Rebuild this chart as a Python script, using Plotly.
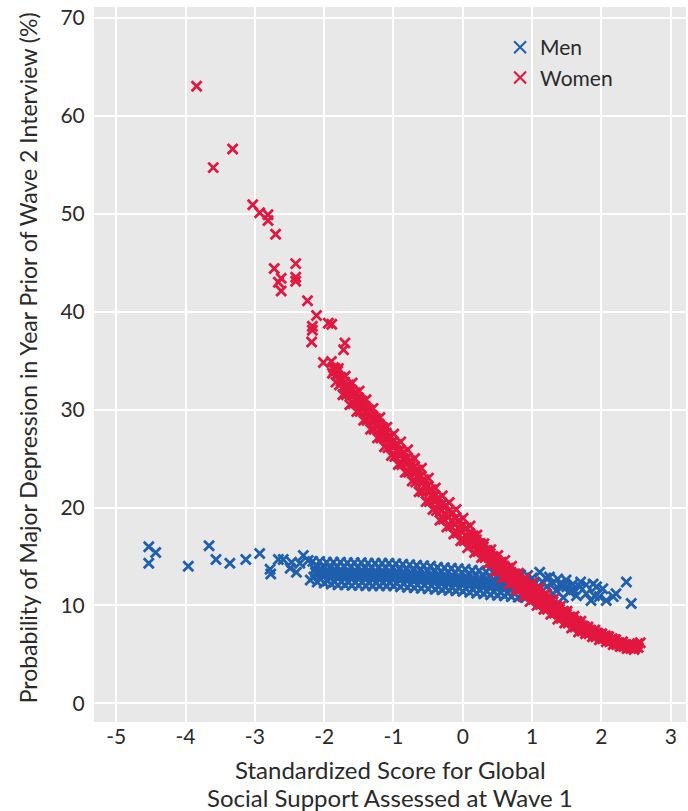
import plotly.graph_objects as go

# ---------------- data ----------------
# Women: sparse points on the left
women_sparse_x = [-3.84, -3.32, -3.60, -3.03, -2.93, -2.81, -2.81, -2.70, -2.72, -2.41,
                  -2.62, -2.66, -2.41, -2.41, -2.62, -2.24, -2.11, -2.17, -2.17, -1.94,
                  -1.89, -2.18, -1.70, -1.72, -2.01]
women_sparse_y = [63.0, 56.6, 54.7, 50.9, 50.1, 49.9, 49.3, 47.9, 44.4, 44.9,
                  43.4, 43.0, 43.5, 43.1, 42.1, 41.1, 39.6, 38.5, 38.1, 38.8,
                  38.7, 36.9, 36.8, 36.1, 34.8]

# Women: dense band (x positions, four estimated points each)
women_band_x = [-1.88, -1.83, -1.78, -1.73, -1.68, -1.63, -1.58, -1.53, -1.48, -1.43,
                -1.38, -1.33, -1.28, -1.23, -1.18, -1.13, -1.08, -1.03, -0.98, -0.93,
                -0.88, -0.83, -0.78, -0.73, -0.68, -0.63, -0.58, -0.53, -0.48, -0.43,
                -0.38, -0.33, -0.28, -0.23, -0.18, -0.13, -0.08, -0.03, 0.02, 0.07,
                0.12, 0.17, 0.22, 0.27, 0.32, 0.37, 0.42, 0.47, 0.52, 0.57,
                0.62, 0.67, 0.72, 0.77, 0.82, 0.87, 0.92, 0.97, 1.02, 1.07,
                1.12, 1.17, 1.22, 1.27, 1.32, 1.37, 1.42, 1.47, 1.52, 1.57,
                1.62, 1.67, 1.72, 1.77, 1.82, 1.87, 1.92, 1.97, 2.02, 2.07,
                2.12, 2.17, 2.22, 2.27, 2.32, 2.37, 2.42, 2.47]
women_band_top = [34.9, 34.2, 34.2, 33.2, 33.4, 32.5, 32.7, 31.7, 31.9, 30.8,
                  31.0, 29.9, 30.1, 29.0, 29.2, 28.1, 28.2, 27.2, 27.5, 26.4,
                  26.7, 25.6, 25.9, 24.7, 25.0, 23.8, 24.0, 22.8, 23.0, 21.8,
                  22.0, 20.9, 21.2, 20.2, 20.5, 19.5, 19.8, 18.6, 18.9, 17.9,
                  18.1, 17.1, 17.2, 16.3, 16.3, 15.6, 15.7, 14.9, 15.1, 14.4,
                  14.6, 13.8, 14.0, 13.2, 13.3, 12.5, 12.8, 12.0, 12.3, 11.6,
                  11.8, 11.0, 11.2, 10.5, 10.6, 9.9, 9.9, 9.4, 9.4, 8.8,
                  8.9, 8.3, 8.4, 7.8, 7.8, 7.4, 7.5, 7.1, 7.1, 6.9,
                  6.8, 6.6, 6.5, 6.2, 6.3, 6.0, 6.0, 5.9]
women_band_mid = [34.3, 33.5, 33.3, 32.3, 32.4, 31.5, 31.7, 30.7, 30.9, 29.8,
                  30.0, 28.9, 29.1, 28.0, 28.2, 27.1, 27.2, 26.2, 26.4, 25.3,
                  25.6, 24.5, 24.8, 23.6, 23.8, 22.6, 22.8, 21.6, 21.8, 20.7,
                  20.9, 19.7, 20.0, 19.0, 19.3, 18.3, 18.6, 17.5, 17.8, 16.9,
                  17.1, 16.2, 16.3, 15.6, 15.6, 14.9, 15.0, 14.2, 14.3, 13.5,
                  13.7, 12.9, 13.1, 12.3, 12.4, 11.6, 11.9, 11.1, 11.4, 10.7,
                  10.9, 10.3, 10.4, 9.8, 9.9, 9.2, 9.3, 8.7, 8.8, 8.2,
                  8.4, 7.8, 7.9, 7.4, 7.5, 7.1, 7.2, 6.8, 6.8, 6.6,
                  6.5, 6.3, 6.2, 6.0, 6.0, 5.8, 5.8, 5.7]
women_band_low = [33.7, 32.8, 32.5, 31.5, 31.5, 30.5, 30.6, 29.8, 29.8, 28.9,
                  28.9, 28.0, 28.0, 27.1, 27.1, 26.2, 26.1, 25.3, 25.2, 24.4,
                  24.4, 23.6, 23.6, 22.7, 22.6, 21.6, 21.6, 20.6, 20.6, 19.8,
                  19.7, 18.7, 18.8, 18.0, 18.1, 17.3, 17.4, 16.6, 16.6, 15.9,
                  16.2, 15.4, 15.5, 14.9, 14.9, 14.3, 14.3, 13.5, 13.5, 12.8,
                  12.9, 12.2, 12.3, 11.6, 11.6, 10.9, 11.1, 10.4, 10.6, 10.0,
                  10.1, 9.6, 9.6, 9.1, 9.2, 8.6, 8.7, 8.2, 8.2, 7.7,
                  7.8, 7.3, 7.4, 7.1, 7.1, 6.8, 6.8, 6.5, 6.6, 6.3,
                  6.3, 6.0, 6.0, 5.8, 5.8, 5.6, 5.6, 5.5]
women_band_extra = [34.0, 33.9, 32.9, 32.8, 32.0, 32.0, 31.1, 31.2, 30.3, 30.3,
                    29.4, 29.4, 28.5, 28.5, 27.6, 27.6, 26.6, 26.7, 25.8, 25.8,
                    25.0, 25.0, 24.2, 24.1, 23.2, 23.2, 22.2, 22.2, 21.2, 21.2,
                    20.3, 20.3, 19.4, 19.6, 18.7, 18.9, 18.0, 18.1, 17.2, 17.4,
                    16.6, 16.7, 15.9, 16.0, 15.2, 15.3, 14.6, 14.6, 13.9, 14.0,
                    13.3, 13.4, 12.7, 12.8, 12.0, 12.1, 11.5, 11.6, 11.0, 11.2,
                    10.5, 10.7, 10.0, 10.1, 9.5, 9.6, 9.0, 9.1, 8.5, 8.5,
                    8.1, 8.0, 7.6, 7.6, 7.3, 7.3, 7.0, 7.0, 6.7, 6.8,
                    6.4, 6.5, 6.1, 6.1, 5.9, 5.9, 5.7, 5.8]
women_end_x = [2.52, 2.53, 2.56]
women_end_y = [6.1, 5.7, 6.2]

# Men: sparse points on the left
men_sparse_x = [-4.53, -4.43, -4.53, -3.96, -3.66, -3.56, -3.36, -3.13, -2.93, -2.78,
                -2.77, -2.66, -2.59, -2.47, -2.49, -2.40, -2.30, -2.35, -2.23, -2.20]
men_sparse_y = [16.0, 15.4, 14.3, 14.0, 16.1, 14.7, 14.3, 14.7, 15.3, 13.7,
                13.2, 14.7, 14.7, 14.4, 13.8, 13.4, 15.1, 14.3, 14.6, 12.6]

# Men: dense band
men_band_x = [-2.15, -2.10, -2.05, -2.00, -1.95, -1.90, -1.85, -1.80, -1.75, -1.70,
              -1.65, -1.60, -1.55, -1.50, -1.45, -1.40, -1.35, -1.30, -1.25, -1.20,
              -1.15, -1.10, -1.05, -1.00, -0.95, -0.90, -0.85, -0.80, -0.75, -0.70,
              -0.65, -0.60, -0.55, -0.50, -0.45, -0.40, -0.35, -0.30, -0.25, -0.20,
              -0.15, -0.10, -0.05, 0.00, 0.05, 0.10, 0.15, 0.20, 0.25, 0.30,
              0.35, 0.40, 0.45, 0.50, 0.55, 0.60, 0.65, 0.70, 0.75, 0.80,
              0.85, 0.90, 0.95]
men_band_top = [14.5, 14.1, 14.5, 14.0, 14.4, 13.9, 14.4, 13.95, 14.4, 13.95,
                14.35, 13.9, 14.35, 13.9, 14.35, 13.85, 14.3, 13.85, 14.3, 13.85,
                14.3, 13.85, 14.3, 13.85, 14.25, 13.75, 14.2, 13.7, 14.15, 13.65,
                14.1, 13.6, 14.05, 13.55, 14.0, 13.5, 13.9, 13.45, 13.85, 13.4,
                13.8, 13.35, 13.75, 13.3, 13.7, 13.2, 13.6, 13.1, 13.55, 13.05,
                13.45, 12.95, 13.4, 12.9, 13.3, 12.85, 13.25, 12.75, 13.2, 12.7,
                13.1, 12.65, 13.05]
men_band_mid = [13.7, 13.2, 13.6, 13.1, 13.5, 13.0, 13.4, 12.95, 13.4, 12.95,
                13.35, 12.9, 13.35, 12.9, 13.35, 12.85, 13.3, 12.85, 13.3, 12.85,
                13.3, 12.85, 13.3, 12.85, 13.25, 12.75, 13.2, 12.7, 13.15, 12.65,
                13.1, 12.6, 13.05, 12.55, 13.0, 12.5, 12.9, 12.45, 12.85, 12.4,
                12.8, 12.35, 12.75, 12.3, 12.7, 12.2, 12.6, 12.1, 12.55, 12.05,
                12.45, 11.95, 12.4, 11.9, 12.3, 11.85, 12.25, 11.75, 12.2, 11.7,
                12.1, 11.65, 12.05]
men_band_low = [12.9, 12.4, 12.7, 12.3, 12.5, 12.2, 12.4, 12.1, 12.4, 12.1,
                12.35, 12.05, 12.35, 12.05, 12.35, 12.0, 12.3, 12.0, 12.3, 12.0,
                12.3, 12.0, 12.3, 12.0, 12.25, 11.9, 12.2, 11.85, 12.15, 11.8,
                12.1, 11.75, 12.05, 11.7, 12.0, 11.65, 11.9, 11.6, 11.85, 11.55,
                11.8, 11.5, 11.75, 11.45, 11.7, 11.35, 11.6, 11.25, 11.55, 11.2,
                11.45, 11.1, 11.4, 11.05, 11.3, 11.0, 11.25, 10.9, 11.2, 10.85,
                11.1, 10.8, 11.05]
men_band_extra = [13.4, 13.6, 13.2, 13.5, 13.1, 13.4, 13.0, 13.35, 13.0, 13.35,
                  12.95, 13.3, 12.95, 13.3, 12.95, 13.25, 12.9, 13.25, 12.9, 13.25,
                  12.9, 13.25, 12.9, 13.25, 12.85, 13.15, 12.8, 13.1, 12.75, 13.05,
                  12.7, 13.0, 12.65, 12.95, 12.6, 12.9, 12.5, 12.85, 12.45, 12.8,
                  12.4, 12.75, 12.35, 12.7, 12.3, 12.6, 12.2, 12.5, 12.15, 12.45,
                  12.05, 12.35, 12.0, 12.3, 11.9, 12.25, 11.85, 12.15, 11.8, 12.1,
                  11.7, 12.05, 11.65]

# Men: sparse points on the right
men_right_x = [1.00, 1.05, 1.10, 1.11, 1.15, 1.20, 1.21, 1.25, 1.30, 1.30,
               1.35, 1.37, 1.40, 1.44, 1.45, 1.49, 1.50, 1.54, 1.59, 1.60,
               1.64, 1.69, 1.70, 1.78, 1.78, 1.85, 1.88, 1.90, 1.93, 1.97,
               2.02, 2.07, 2.17, 2.21, 2.36, 2.43]
men_right_y = [12.8, 12.3, 11.6, 13.4, 12.4, 12.8, 11.9, 12.9, 12.3, 11.2,
               11.5, 12.7, 12.2, 11.9, 10.8, 12.6, 11.9, 11.4, 12.2, 11.6,
               11.0, 11.9, 12.4, 12.1, 11.2, 10.5, 12.2, 11.0, 11.9, 10.9,
               11.7, 10.5, 10.9, 11.2, 12.4, 10.2]

# tick values and texts
x_ticks = [-5, -4, -3, -2, -1, 0, 1, 2, 3]
y_ticks = [0, 10, 20, 30, 40, 50, 60, 70]
x_title_lines = ["Standardized Score for Global", "Social Support Assessed at Wave 1"]
y_title = "Probability of Major Depression in Year Prior of Wave 2 Interview (%)"

# ---------------- assemble ----------------
women_x = list(women_sparse_x)
women_y = list(women_sparse_y)
for xv, t, m, l, e in zip(women_band_x, women_band_top, women_band_mid,
                          women_band_low, women_band_extra):
    women_x += [xv - 0.015, xv + 0.015, xv, xv + 0.025]
    women_y += [t, m, l, e]
women_x += women_end_x
women_y += women_end_y

men_x = list(men_sparse_x)
men_y = list(men_sparse_y)
for xv, t, m, l, e in zip(men_band_x, men_band_top, men_band_mid,
                          men_band_low, men_band_extra):
    men_x += [xv - 0.015, xv + 0.015, xv, xv + 0.025]
    men_y += [t, m, l, e]
men_x += men_right_x
men_y += men_right_y

BLUE = "#1f5fae"
RED = "#e2173f"
FONT = "Lato"
TXT = "#2a2a2a"

fig = go.Figure()
fig.add_trace(go.Scatter(
    x=men_x, y=men_y, mode="markers", name="Men",
    marker=dict(symbol="x-thin", size=10, color=BLUE, line=dict(width=2.8, color=BLUE)),
))
fig.add_trace(go.Scatter(
    x=women_x, y=women_y, mode="markers", name="Women",
    marker=dict(symbol="x-thin", size=10, color=RED, line=dict(width=2.8, color=RED)),
))

fig.update_layout(
    width=688, height=811,
    margin=dict(l=94, r=2, t=7, b=89),
    paper_bgcolor="white",
    plot_bgcolor="#e8e8e9",
    font=dict(family=FONT, color=TXT, size=21),
    showlegend=True,
    legend=dict(x=0.686, y=0.972, xanchor="left", yanchor="top",
                bgcolor="rgba(0,0,0,0)", font=dict(size=21, family=FONT, color=TXT),
                itemsizing="constant", tracegroupgap=0),
)
fig.update_xaxes(
    range=[-5.32, 3.22], tickmode="array", tickvals=x_ticks,
    ticktext=[str(v) for v in x_ticks],
    showgrid=True, gridcolor="white", gridwidth=2, zeroline=False,
    showline=False, ticks="",
    tickfont=dict(size=21, family=FONT, color=TXT),
)
fig.update_yaxes(
    range=[-1.9, 71.1], tickmode="array", tickvals=y_ticks,
    ticktext=[str(v) for v in y_ticks],
    showgrid=True, gridcolor="white", gridwidth=2, zeroline=False,
    showline=False, ticks="outside", ticklen=4, tickcolor="rgba(0,0,0,0)",
    tickfont=dict(size=21, family=FONT, color=TXT),
)

# axis titles as paper-positioned annotations
fig.add_annotation(text=x_title_lines[0], xref="paper", yref="paper", x=0.5, y=-0.0671,
                   xanchor="center", yanchor="middle", showarrow=False,
                   font=dict(size=24, family=FONT, color=TXT))
fig.add_annotation(text=x_title_lines[1], xref="paper", yref="paper", x=0.5, y=-0.1049,
                   xanchor="center", yanchor="middle", showarrow=False,
                   font=dict(size=24, family=FONT, color=TXT))
fig.add_annotation(text=y_title, xref="paper", yref="paper", x=-0.1115, y=0.51,
                   xanchor="center", yanchor="middle", showarrow=False, textangle=-90,
                   font=dict(size=23, family=FONT, color=TXT))

fig.write_html("out.html", config={"displayModeBar": False},
               post_script="document.body.style.margin='0px';")
